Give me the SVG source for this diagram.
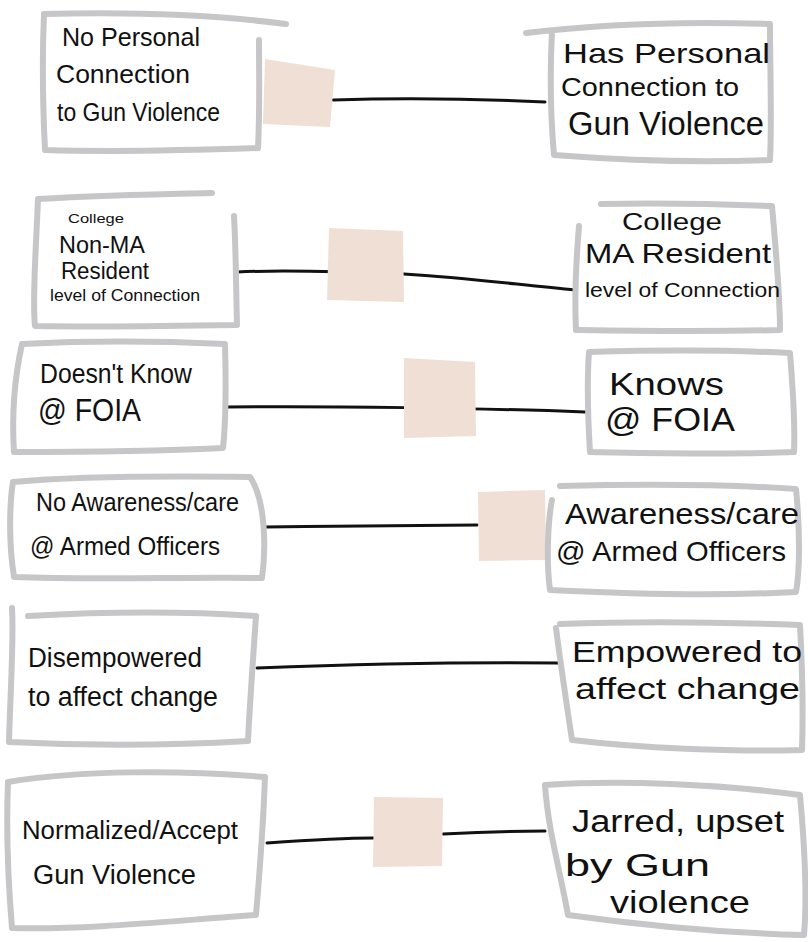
<svg xmlns="http://www.w3.org/2000/svg" width="808" height="942" viewBox="0 0 808 942">
<style>
.box{fill:#fff;stroke:#c6c6c8;stroke-width:6;stroke-linejoin:round;stroke-linecap:round}
.sq{fill:#efdfd4}
.ln{fill:none;stroke:#111;stroke-width:3;stroke-linecap:round}
text{font-family:"Liberation Sans","Noto Sans",sans-serif;fill:#111}
</style>
<rect width="808" height="942" fill="#fff"/>
<g id="connectors">
<path class="ln" d="M333,100 C400,98 480,99 545,102"/>
<path class="ln" d="M237,272 C280,270 330,271 404,274 C470,278 520,285 576,290"/>
<path class="ln" d="M226,407 C330,406 480,408 585,412"/>
<path class="ln" d="M265,527 C340,526 420,525 477,525"/>
<path class="ln" d="M257,668 C360,664 460,662 558,663"/>
<path class="ln" d="M267,843 C310,840 340,838 373,838"/>
<path class="ln" d="M443,834 C480,832 510,831 545,831"/>
</g>
<g id="n1l">
<path class="box" d="M44,14 C120,12 200,13 286,24 M44,14 C42,60 43,110 45,150 C110,152 200,150 258,148 C260,110 259,80 259,40"/>
<text x="62" y="46" font-size="26" textLength="138" lengthAdjust="spacingAndGlyphs">No Personal</text>
<text x="56" y="83" font-size="26" textLength="134" lengthAdjust="spacingAndGlyphs">Connection</text>
<text x="57" y="121" font-size="26" textLength="163" lengthAdjust="spacingAndGlyphs">to Gun Violence</text>
</g>
<g id="sq1"><path class="sq" d="M265,59 L335,70 L330,127 L263,124 Z"/></g>
<g id="n1r">
<path class="box" d="M526,33 C600,24 680,21 770,24 C770,70 772,120 770,160 C700,163 620,160 554,155 C550,110 550,70 552,32"/>
<text x="563" y="63" font-size="28" textLength="207" lengthAdjust="spacingAndGlyphs">Has Personal</text>
<text x="561" y="96" font-size="26" textLength="178" lengthAdjust="spacingAndGlyphs">Connection to</text>
<text x="568" y="135" font-size="34" textLength="196" lengthAdjust="spacingAndGlyphs">Gun Violence</text>
</g>
<g id="n2l">
<path class="box" d="M38,199 C100,195 160,194 212,193 M38,199 C36,250 32,300 35,326 C100,327 180,326 237,325 C236,290 236,250 234,216"/>
<text x="68" y="223" font-size="13" textLength="56" lengthAdjust="spacingAndGlyphs">College</text>
<text x="59" y="253" font-size="23" textLength="86" lengthAdjust="spacingAndGlyphs">Non-MA</text>
<text x="61" y="279" font-size="23" textLength="88" lengthAdjust="spacingAndGlyphs">Resident</text>
<text x="50" y="301" font-size="16" textLength="150" lengthAdjust="spacingAndGlyphs">level of Connection</text>
</g>
<g id="sq2"><path class="sq" d="M329,228 L403,231 L404,302 L327,300 Z"/></g>
<g id="n2r">
<path class="box" d="M601,204 C660,203 720,204 772,206 C776,250 780,300 780,330 C700,332 640,331 576,330 C574,290 577,250 579,226"/>
<text x="622" y="230" font-size="24" textLength="100" lengthAdjust="spacingAndGlyphs">College</text>
<text x="585" y="263" font-size="28" textLength="186" lengthAdjust="spacingAndGlyphs">MA Resident</text>
<text x="585" y="297" font-size="20" textLength="195" lengthAdjust="spacingAndGlyphs">level of Connection</text>
</g>
<g id="n3l">
<path class="box" d="M22,344 C80,341 160,341 225,344 C226,380 226,420 223,448 C160,451 80,452 14,452 C12,420 14,380 22,344"/>
<text x="40" y="383" font-size="27" textLength="152" lengthAdjust="spacingAndGlyphs">Doesn't Know</text>
<text x="38" y="421" font-size="32" textLength="103" lengthAdjust="spacingAndGlyphs">@ FOIA</text>
</g>
<g id="sq3"><path class="sq" d="M404,358 L475,362 L476,436 L404,438 Z"/></g>
<g id="n3r">
<path class="box" d="M589,352 C660,350 730,350 790,353 C793,390 795,430 794,452 C730,455 650,453 590,452 C588,420 587,380 589,352"/>
<text x="609" y="395" font-size="32" textLength="115" lengthAdjust="spacingAndGlyphs">Knows</text>
<text x="605" y="431" font-size="34" textLength="130" lengthAdjust="spacingAndGlyphs">@ FOIA</text>
</g>
<g id="n4l">
<path class="box" d="M13,482 C80,476 170,476 250,477 C266,500 266,550 262,578 C180,577 90,580 14,577 C8,540 10,500 13,482"/>
<text x="36" y="511" font-size="25" textLength="203" lengthAdjust="spacingAndGlyphs">No Awareness/care</text>
<text x="30" y="555" font-size="26" textLength="190" lengthAdjust="spacingAndGlyphs">@ Armed Officers</text>
</g>
<g id="sq4"><path class="sq" d="M478,492 L545,490 L546,560 L479,561 Z"/></g>
<g id="n4r">
<path class="box" d="M560,486 C640,484 720,484 796,489 C800,530 800,570 796,592 C720,596 630,594 550,590 C546,560 548,520 552,500"/>
<text x="565" y="524" font-size="30" textLength="234" lengthAdjust="spacingAndGlyphs">Awareness/care</text>
<text x="556" y="561" font-size="28" textLength="230" lengthAdjust="spacingAndGlyphs">@ Armed Officers</text>
</g>
<g id="n5l">
<path class="box" d="M12,608 C14,640 10,700 9,742 C90,746 180,745 248,741 C250,700 253,660 256,616 C180,611 100,612 28,616"/>
<text x="28" y="667" font-size="28" textLength="174" lengthAdjust="spacingAndGlyphs">Disempowered</text>
<text x="28" y="706" font-size="27" textLength="190" lengthAdjust="spacingAndGlyphs">to affect change</text>
</g>
<g id="n5r">
<path class="box" d="M560,624 C640,621 720,622 800,625 C803,680 803,720 802,750 C730,752 640,748 572,740 C566,700 560,660 556,628"/>
<text x="572" y="662" font-size="30" textLength="230" lengthAdjust="spacingAndGlyphs">Empowered to</text>
<text x="575" y="699" font-size="30" textLength="225" lengthAdjust="spacingAndGlyphs">affect change</text>
</g>
<g id="n6l">
<path class="box" d="M8,782 C80,770 180,770 265,777 C263,830 259,880 256,915 C180,920 90,930 12,928 C8,880 6,830 8,782"/>
<text x="22" y="839" font-size="26" textLength="216" lengthAdjust="spacingAndGlyphs">Normalized/Accept</text>
<text x="33" y="884" font-size="27" textLength="163" lengthAdjust="spacingAndGlyphs">Gun Violence</text>
</g>
<g id="sq5"><path class="sq" d="M374,797 L443,798 L442,866 L373,867 Z"/></g>
<g id="n6r">
<path class="box" d="M545,785 C620,780 720,784 800,795 C805,850 807,900 804,935 C720,933 640,925 568,915 C560,870 548,830 545,785"/>
<text x="572" y="832" font-size="31" textLength="212" lengthAdjust="spacingAndGlyphs">Jarred, upset</text>
<text x="565" y="876" font-size="32" textLength="145" lengthAdjust="spacingAndGlyphs">by Gun</text>
<text x="610" y="913" font-size="32" textLength="140" lengthAdjust="spacingAndGlyphs">violence</text>
</g>
</svg>
